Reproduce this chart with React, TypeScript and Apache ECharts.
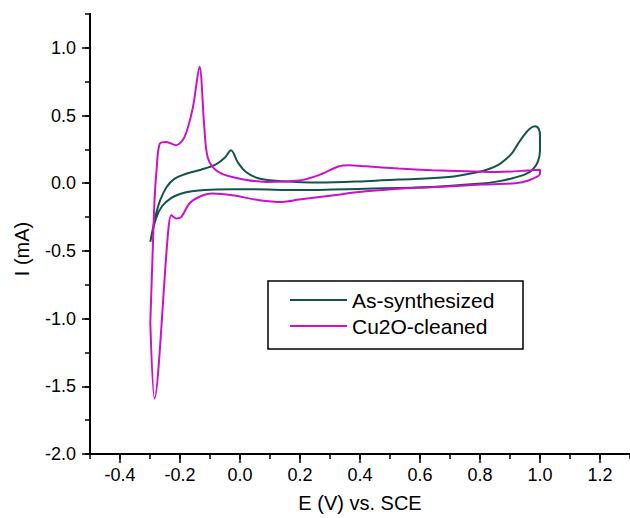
import React, { useEffect, useRef } from "react";
import * as echarts from "echarts";

// Potential (V vs. SCE) and current (mA)
const asSynE = [
  -0.299, -0.29, -0.279, -0.265, -0.245, -0.22, -0.18, -0.13, -0.08, -0.05, -0.03, -0.008, 0.02,
  0.064, 0.141, 0.263, 0.419, 0.529, 0.695, 0.795, 0.83, 0.861, 0.885, 0.906, 0.925, 0.945, 0.965,
  0.983, 0.996, 1.0, 1.0, 0.993, 0.975, 0.95, 0.905, 0.85, 0.805, 0.639, 0.419, 0.197, 0.031,
  -0.08, -0.16, -0.2, -0.23, -0.26, -0.28, -0.299,
];
const asSynI = [
  -0.433, -0.33, -0.22, -0.12, -0.03, 0.03, 0.07, 0.1, 0.14, 0.19, 0.243, 0.157, 0.083, 0.035,
  0.015, 0.005, 0.015, 0.027, 0.046, 0.083, 0.105, 0.135, 0.175, 0.22, 0.285, 0.35, 0.4, 0.42, 0.4,
  0.35, 0.24, 0.16, 0.1, 0.065, 0.035, 0.01, -0.002, -0.027, -0.04, -0.05, -0.045, -0.046, -0.06,
  -0.08, -0.11, -0.17, -0.26, -0.433,
];

const cuE = [
  -0.299, -0.292, -0.285, -0.278, -0.268, -0.246, -0.213, -0.185, -0.157, -0.135, -0.119, -0.108,
  -0.08, -0.026, 0.086, 0.197, 0.263, 0.33, 0.363, 0.419, 0.529, 0.639, 0.751, 0.861, 0.971, 1.0,
  1.0, 0.961, 0.917, 0.805, 0.639, 0.529, 0.419, 0.307, 0.197, 0.141, 0.064, -0.026, -0.092,
  -0.135, -0.168, -0.196, -0.213, -0.229, -0.24, -0.285, -0.299,
];
const cuI = [
  -1.03, -0.57, -0.13, 0.1, 0.29, 0.305, 0.28, 0.34, 0.56, 0.86, 0.415, 0.194, 0.096, 0.046, 0.01,
  0.02, 0.06, 0.125, 0.133, 0.125, 0.108, 0.096, 0.089, 0.083, 0.096, 0.1, 0.07, 0.02, 0.0, -0.01,
  -0.03, -0.04, -0.06, -0.09, -0.12, -0.138, -0.125, -0.089, -0.076, -0.1, -0.148, -0.25, -0.26,
  -0.236, -0.37, -1.59, -1.03,
];

const seriesNames = ["As-synthesized", "Cu2O-cleaned"];
const seriesColors = ["#13544b", "#cc11cc"];

const xMin = -0.5;
const xMax = 1.3;
const yMin = -2.0;
const yMax = 1.25;

const FONT = "'Liberation Sans', Arial, sans-serif";

function pairs(xs: number[], ys: number[]) {
  return xs.map((x, i) => [x, ys[i]]);
}

export default function App() {
  const ref = useRef<HTMLDivElement>(null);
  useEffect(() => {
    if (!ref.current) return;
    const chart = echarts.init(ref.current, null, { renderer: "svg" });
    const axisLine = { show: true, onZero: false, lineStyle: { color: "#000", width: 2 } };
    chart.setOption({
      animation: false,
      backgroundColor: "#fff",
      grid: { left: 90, right: 0, top: 14, bottom: 64, containLabel: false },
      xAxis: [
        {
          type: "value",
          min: xMin,
          max: xMax,
          interval: 0.1,
          axisLine,
          axisTick: { show: true, length: 5, lineStyle: { color: "#000", width: 1.5 } },
          axisLabel: { show: false },
          splitLine: { show: false },
        },
        {
          type: "value",
          min: xMin,
          max: xMax,
          splitNumber: 9,
          position: "bottom",
          axisLine,
          axisTick: { show: true, length: 9, lineStyle: { color: "#000", width: 1.5 } },
          axisLabel: {
            show: true,
            showMinLabel: false,
            showMaxLabel: false,
            margin: 12,
            color: "#000",
            fontSize: 18,
            fontFamily: FONT,
            formatter: (v: number) => v.toFixed(1),
          },
          splitLine: { show: false },
          name: "E (V) vs. SCE",
          nameLocation: "middle",
          nameGap: 39,
          nameTextStyle: { color: "#000", fontSize: 20, fontFamily: FONT },
        },
      ],
      yAxis: [
        {
          type: "value",
          min: yMin,
          max: yMax,
          interval: 0.25,
          axisLine,
          axisTick: { show: true, length: 5, lineStyle: { color: "#000", width: 1.5 } },
          axisLabel: { show: false },
          splitLine: { show: false },
        },
        {
          type: "value",
          min: yMin,
          max: yMax,
          interval: 0.5,
          position: "left",
          axisLine,
          axisTick: { show: true, length: 8, lineStyle: { color: "#000", width: 1.5 } },
          axisLabel: {
            show: true,
            showMaxLabel: false,
            margin: 14,
            color: "#000",
            fontSize: 18,
            fontFamily: FONT,
            formatter: (v: number) => v.toFixed(1),
          },
          splitLine: { show: false },
        },
      ],
      legend: {
        orient: "vertical",
        left: 290,
        top: 289.5,
        padding: 0,
        icon: "rect",
        itemWidth: 57,
        itemHeight: 2,
        itemGap: 5,
        textStyle: { color: "#000", fontSize: 21, lineHeight: 21, fontFamily: FONT },
        data: seriesNames,
      },
      graphic: [
        {
          type: "rect",
          shape: { x: 268, y: 281, width: 255, height: 68 },
          style: { fill: "rgba(0,0,0,0)", stroke: "#000", lineWidth: 1.5 },
        },
        {
          type: "text",
          x: 22,
          y: 249,
          rotation: Math.PI / 2,
          style: {
            text: "I (mA)",
            fill: "#000",
            fontSize: 20,
            fontFamily: FONT,
            textAlign: "center",
            textVerticalAlign: "middle",
          },
        },
      ],
      series: [
        {
          name: seriesNames[0],
          type: "line",
          xAxisIndex: 0,
          yAxisIndex: 0,
          data: pairs(asSynE, asSynI),
          symbol: "none",
          smooth: 0.35,
          lineStyle: { color: seriesColors[0], width: 2 },
          itemStyle: { color: seriesColors[0] },
        },
        {
          name: seriesNames[1],
          type: "line",
          xAxisIndex: 0,
          yAxisIndex: 0,
          data: pairs(cuE, cuI),
          symbol: "none",
          smooth: 0.3,
          lineStyle: { color: seriesColors[1], width: 2 },
          itemStyle: { color: seriesColors[1] },
        },
      ],
    });
    return () => chart.dispose();
  }, []);
  return (
    <div
      ref={ref}
      style={{ position: "fixed", left: 0, top: 0, width: 630, height: 518, background: "#fff" }}
    />
  );
}
